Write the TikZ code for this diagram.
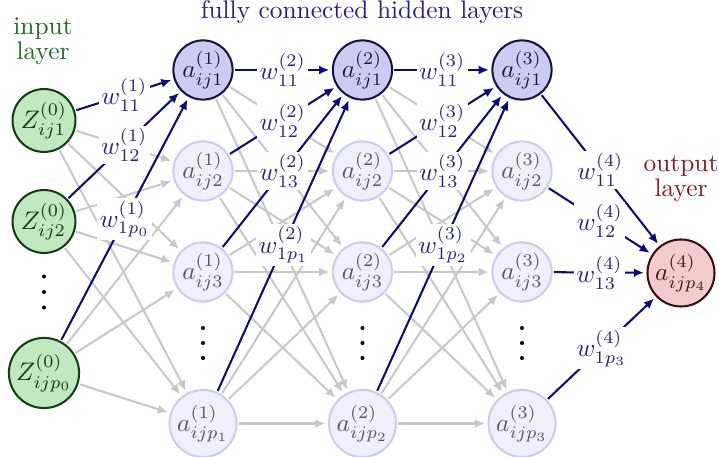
\documentclass[tikz,border=0pt]{standalone}
\usetikzlibrary{arrows.meta}
\definecolor{edgeblue}{RGB}{10,10,120}
\definecolor{lblblue}{RGB}{35,35,140}
\definecolor{infill}{RGB}{194,232,194}
\definecolor{indraw}{RGB}{20,60,20}
\definecolor{intext}{RGB}{25,55,25}
\definecolor{actfill}{RGB}{204,204,242}
\definecolor{actdraw}{RGB}{20,20,60}
\definecolor{acttext}{RGB}{25,25,60}
\definecolor{inactfill}{RGB}{240,240,251}
\definecolor{inactdraw}{RGB}{204,204,242}
\definecolor{inacttext}{RGB}{85,85,110}
\definecolor{outfill}{RGB}{242,204,204}
\definecolor{outdraw}{RGB}{60,10,10}
\definecolor{outtext}{RGB}{60,25,25}
\definecolor{titleblue}{RGB}{30,30,140}
\definecolor{ingreentext}{RGB}{25,110,25}
\definecolor{outredtext}{RGB}{140,25,25}
\definecolor{greyedge}{RGB}{200,200,200}
\begin{document}
\begin{tikzpicture}[x=0.394pt,y=-0.394pt,
  nodebase/.style={circle,thick,inner sep=0.5pt,minimum size=22.8pt},
  nin/.style={nodebase,draw=indraw,fill=infill,text=intext,minimum size=24.4pt},
  nact/.style={nodebase,draw=actdraw,fill=actfill,text=acttext},
  ninact/.style={nodebase,draw=inactdraw,fill=inactfill,text=inacttext},
  nout/.style={nodebase,draw=outdraw,fill=outfill,text=outtext,minimum size=26.4pt},
  garrow/.style={-{Latex[length=4pt,width=3.5pt]},thick,draw=greyedge,shorten <=0.5pt,shorten >=1pt},
  barrow/.style={-{Latex[length=4pt,width=3.5pt]},thick,draw=edgeblue,shorten <=0.5pt,shorten >=1pt},
  wlbl/.style={fill=white,inner sep=1pt,text=lblblue,pos=0.5},
  layertext/.style={inner sep=0pt,anchor=base}
]
\useasboundingbox (0,0) rectangle (719,457);

% titles
\node[layertext,text=ingreentext] (tin1) at (43,35) {input};
\node[layertext,text=ingreentext] (tin2) at (43,60) {layer};
\node[layertext,text=titleblue] (thid) at (362,19) {fully connected hidden layers};
\node[layertext,text=outredtext] (tout1) at (681,172) {output};
\node[layertext,text=outredtext] (tout2) at (681,197) {layer};

% input layer
\node[nin] (Z-1) at (44,120.5) {$Z^{(0)}_{ij1}$};
\node[nin] (Z-2) at (44,221.5) {$Z^{(0)}_{ij2}$};
\node[nin,minimum size=27.2pt] (Z-3) at (44,373) {$Z^{(0)}_{ijp_0}$};
\fill (44,276.5) circle (0.8pt) (44,292) circle (0.8pt) (44,307.5) circle (0.8pt);

% hidden layers
\foreach \l/\x in {1/203,2/362.5,3/522}{
  \node[nact] (H\l-1) at (\x,70) {$a^{(\l)}_{ij1}$};
  \node[ninact] (H\l-2) at (\x,171) {$a^{(\l)}_{ij2}$};
  \node[ninact] (H\l-3) at (\x,272) {$a^{(\l)}_{ij3}$};
  \node[ninact,minimum size=26.4pt] (H\l-4) at (\x,423.5) {$a^{(\l)}_{ijp_{\l}}$};
  \fill (\x,328) circle (0.8pt) (\x,343) circle (0.8pt) (\x,358) circle (0.8pt);
}

% output
\node[nout] (O) at (681,273) {$a^{(4)}_{ijp_4}$};

% grey connections
\foreach \s in {1,2,3}{
  \foreach \t in {2,3,4}{
    \draw[garrow] (Z-\s) -- (H1-\t);
  }
}
\foreach \l/\n in {1/2,2/3}{
  \foreach \s in {1,2,3,4}{
    \foreach \t in {2,3,4}{
      \draw[garrow] (H\l-\s) -- (H\n-\t);
    }
  }
}

% blue connections with weights
\draw[barrow] (Z-1) -- node[wlbl] (w1a) {$w^{(1)}_{11}$} (H1-1);
\draw[barrow] (Z-2) -- node[wlbl] (w1b) {$w^{(1)}_{12}$} (H1-1);
\draw[barrow] (Z-3) -- node[wlbl] (w1c) {$w^{(1)}_{1p_0}$} (H1-1);
\foreach \l/\n in {1/2,2/3}{
  \draw[barrow] (H\l-1) -- node[wlbl] (w\n a) {$w^{(\n)}_{11}$} (H\n-1);
  \draw[barrow] (H\l-2) -- node[wlbl] (w\n b) {$w^{(\n)}_{12}$} (H\n-1);
  \draw[barrow] (H\l-3) -- node[wlbl] (w\n c) {$w^{(\n)}_{13}$} (H\n-1);
  \draw[barrow] (H\l-4) -- node[wlbl] (w\n d) {$w^{(\n)}_{1p_{\l}}$} (H\n-1);
}
\draw[barrow] (H3-1) -- node[wlbl] (w4a) {$w^{(4)}_{11}$} (O);
\draw[barrow] (H3-2) -- node[wlbl] (w4b) {$w^{(4)}_{12}$} (O);
\draw[barrow] (H3-3) -- node[wlbl] (w4c) {$w^{(4)}_{13}$} (O);
\draw[barrow] (H3-4) -- node[wlbl] (w4d) {$w^{(4)}_{1p_3}$} (O);
\end{tikzpicture}
\end{document}
